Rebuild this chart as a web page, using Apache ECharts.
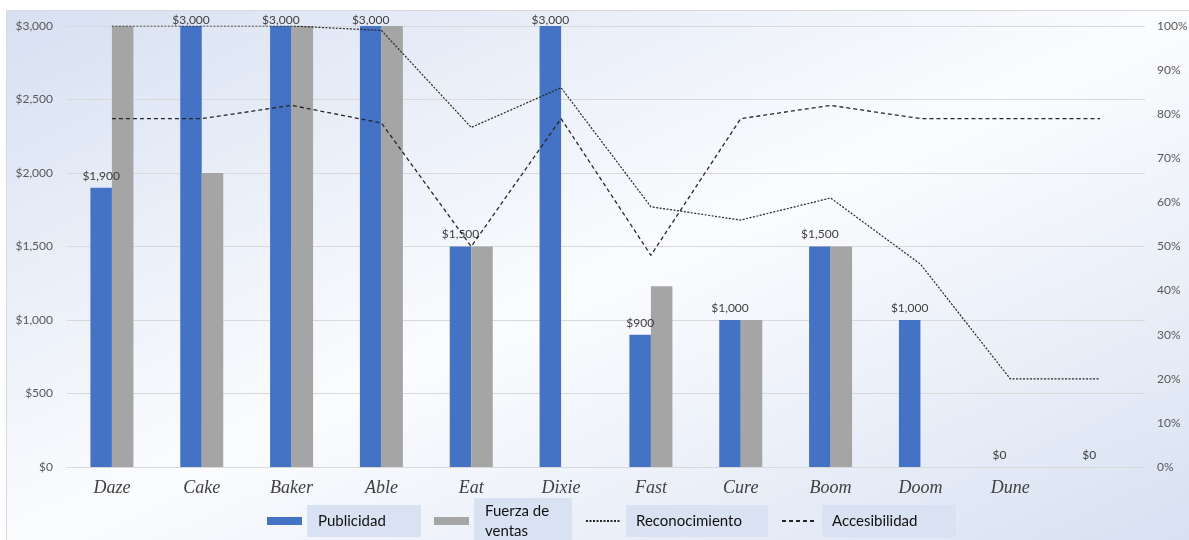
<!DOCTYPE html>
<html>
<head>
<meta charset="utf-8">
<script src="https://cdn.jsdelivr.net/npm/echarts@6/dist/echarts.min.js"></script>
<style>
  html, body { margin: 0; padding: 0; background: #ffffff; }
  #chart { width: 1189px; height: 540px; }
</style>
</head>
<body>
<div id="chart"></div>
<script>
// Brands along the category axis (the last slot has no name)
const categories = ['Daze', 'Cake', 'Baker', 'Able', 'Eat', 'Dixie', 'Fast', 'Cure', 'Boom', 'Doom', 'Dune', ''];

// Spend per brand, in dollars
const publicidad = [1900, 3000, 3000, 3000, 1500, 3000, 900, 1000, 1500, 1000, 0, 0];
const fuerzaVentas = [3000, 2000, 3000, 3000, 1500, 0, 1230, 1000, 1500, 0, 0, 0];

// Awareness and accessibility, in percent
const reconocimiento = [100, 100, 100, 99, 77, 86, 59, 56, 61, 46, 20, 20];
const accesibilidad = [79, 79, 82, 78, 50, 79, 48, 79, 82, 79, 79, 79];

// Axis ticks
const dollarTicks = { min: 0, max: 3000, step: 500 };
const percentTicks = { min: 0, max: 100, step: 10 };

const seriesNames = ['Publicidad', 'Fuerza de ventas', 'Reconocimiento', 'Accesibilidad'];

const fmtDollar = v => '$' + Number(v).toLocaleString('en-US');

const W = 1189, H = 540;
const chart = echarts.init(document.getElementById('chart'), null, { renderer: 'canvas', width: W, height: H });

// Background panel with a diagonal blue-white-blue wash
const bx = 6, by = 10, bw = W - bx + 10, bh = H - by + 10;
const cx = bx + bw / 2, cy = by + bh / 2;
const s = (bw * bh) / (bw * bw + bh * bh);
const gx = bh * s, gy = bw * s;
const bgFill = {
  type: 'linear', global: true,
  x: cx - gx, y: cy - gy, x2: cx + gx, y2: cy + gy,
  colorStops: [
    { offset: 0, color: '#d7e0f2' },
    { offset: 0.5, color: '#fbfcfe' },
    { offset: 1, color: '#d7e0f2' }
  ]
};

const uiFont = 'Lato, "Noto Sans", sans-serif';
const lineColor = '#262626';

const legendBox = (w, pad) => ({
  color: '#111111', fontFamily: uiFont, fontSize: 15, lineHeight: 20,
  backgroundColor: '#d9e2f3', width: w, padding: pad
});
// Line entries in the legend show only the line sample, no marker
const noMarker = { color: 'rgba(0,0,0,0)', borderWidth: 0, opacity: 0 };

chart.setOption({
  animation: false,
  graphic: [{
    type: 'rect', z: -10, silent: true,
    shape: { x: bx + 0.5, y: by + 0.5, width: bw, height: bh },
    style: { fill: bgFill, stroke: '#d9d9d9', lineWidth: 1 }
  }],
  grid: { left: 67, right: 44, top: 26, bottom: 73, containLabel: false, outerBoundsMode: 'none' },
  legend: {
    left: 262, top: 493,
    itemWidth: 35, itemHeight: 8, itemGap: 13,
    data: [
      { name: seriesNames[0], icon: 'rect', textStyle: legendBox(92, [6, 11]) },
      { name: seriesNames[1], icon: 'rect', textStyle: legendBox(76, [3, 11]) },
      { name: seriesNames[2], itemStyle: noMarker, textStyle: legendBox(122, [6, 10]) },
      { name: seriesNames[3], itemStyle: noMarker, textStyle: legendBox(114, [6, 10]) }
    ],
    formatter: name => name === 'Fuerza de ventas' ? 'Fuerza de\nventas' : name
  },
  xAxis: {
    type: 'category', data: categories,
    axisTick: { show: false },
    axisLine: { lineStyle: { color: '#d9d9d9', width: 1 } },
    axisLabel: {
      color: '#404040', fontFamily: '"Liberation Serif", serif', fontStyle: 'italic',
      fontSize: 18, margin: 12, interval: 0
    }
  },
  yAxis: [{
    type: 'value', min: dollarTicks.min, max: dollarTicks.max, interval: dollarTicks.step,
    axisLine: { show: false }, axisTick: { show: false },
    splitLine: { lineStyle: { color: '#d9d9d9', width: 1 } },
    axisLabel: { color: '#595959', fontFamily: uiFont, fontSize: 12, margin: 14, formatter: fmtDollar }
  }, {
    type: 'value', min: percentTicks.min, max: percentTicks.max, interval: percentTicks.step,
    position: 'right',
    axisLine: { show: false }, axisTick: { show: false }, splitLine: { show: false },
    axisLabel: { color: '#595959', fontFamily: uiFont, fontSize: 12, margin: 12, formatter: '{value}%' }
  }],
  series: [{
    name: seriesNames[0], type: 'bar', data: publicidad.map(v => ({
      value: v,
      label: { distance: v >= dollarTicks.max ? 0 : 6 }
    })),
    barWidth: 21.5, barGap: '0%',
    itemStyle: { color: '#4472c4' },
    label: {
      show: true, position: 'top', color: '#404040', fontFamily: uiFont, fontSize: 12,
      formatter: p => fmtDollar(p.value)
    },
    z: 2
  }, {
    name: seriesNames[1], type: 'bar', data: fuerzaVentas,
    barWidth: 21.5, barGap: '0%',
    itemStyle: { color: '#a5a5a5' },
    z: 2
  }, {
    name: seriesNames[2], type: 'line', yAxisIndex: 1, data: reconocimiento,
    symbol: 'none', showSymbol: false,
    lineStyle: { color: lineColor, width: 1.2, type: [2, 1.5] },
    itemStyle: { color: lineColor },
    z: 5
  }, {
    name: seriesNames[3], type: 'line', yAxisIndex: 1, data: accesibilidad,
    symbol: 'none', showSymbol: false,
    lineStyle: { color: lineColor, width: 1.3, type: [4, 3] },
    itemStyle: { color: lineColor },
    z: 5
  }]
});
</script>
</body>
</html>
